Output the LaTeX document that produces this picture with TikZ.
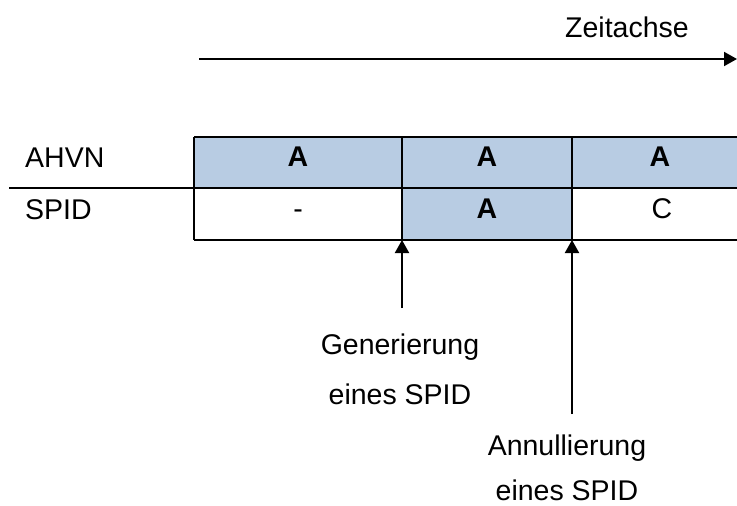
\documentclass[tikz,border=0pt]{standalone}
\usepackage{fontspec}
\setmainfont{Liberation Sans}
\usetikzlibrary{arrows.meta}
\definecolor{cellblue}{rgb}{0.72,0.80,0.89}

\tikzset{
  txt/.style={anchor=base,inner sep=0pt,font=\fontsize{28.5}{34}\selectfont},
  btxt/.style={txt,font=\fontsize{28.5}{34}\selectfont\bfseries},
  rule/.style={line width=2.4pt},
  pfeil/.style={line width=2pt,-{Triangle[length=13pt,width=14pt]}}
}

\begin{document}
\begin{tikzpicture}[x=1pt,y=-1pt]
\useasboundingbox (0,0) rectangle (737,506);
% time axis
\node[txt] (zeit) at (627,37) {Zeitachse};
\coordinate (z0) at (199,59);
\coordinate (z1) at (737,59);
\draw[pfeil] (z0) -- (z1);
% shaded cells
\fill[cellblue] (194,137) rectangle (752,188);
\fill[cellblue] (402,188) rectangle (572,240);
% table lines
\draw[rule] (194,137) -- (752,137);
\draw[rule] (9,188) -- (752,188);
\draw[rule] (194,240) -- (752,240);
\draw[rule] (194,137) -- (194,240);
\draw[rule] (402,137) -- (402,240);
\draw[rule] (572,137) -- (572,240);
% row labels
\node[txt,anchor=base west] (ahvn) at (25,167) {AHVN};
\node[txt,anchor=base west] (spid) at (25,219) {SPID};
% cells
\node[btxt] (a1) at (298,166) {A};
\node[btxt] (a2) at (487,166) {A};
\node[btxt] (a3) at (660,166) {A};
\node[txt] (s1) at (298,218) {-};
\node[btxt] (s2) at (487,218) {A};
\node[txt] (s3) at (662,218) {C};
% events
\node[txt] (gen1) at (400,354) {Generierung};
\node[txt] (gen2) at (400,404) {eines SPID};
\node[txt] (ann1) at (567,455) {Annullierung};
\node[txt] (ann2) at (567,500) {eines SPID};
\coordinate (g0) at (402,308);
\coordinate (g1) at (402,240);
\coordinate (c0) at (572,414);
\coordinate (c1) at (572,240);
\draw[pfeil] (g0) -- (g1);
\draw[pfeil] (c0) -- (c1);
\end{tikzpicture}
\end{document}
